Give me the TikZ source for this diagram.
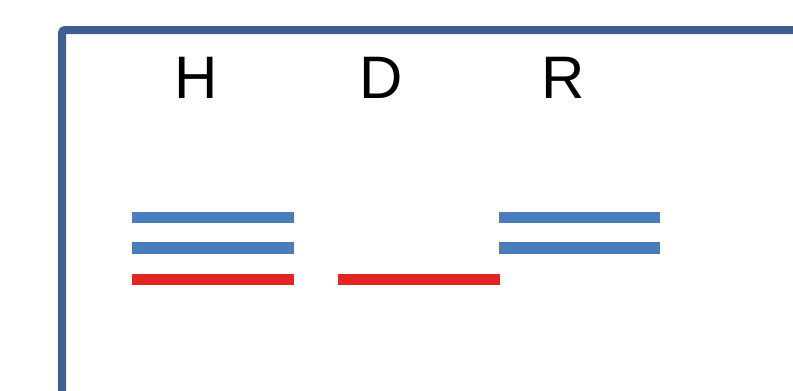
\documentclass[tikz,border=0pt]{standalone}
\usepackage{fontspec}
\setmainfont{Liberation Sans}
\usetikzlibrary{positioning}
\definecolor{framecol}{HTML}{3E6191}
\definecolor{bandblue}{HTML}{4A7EBB}
\definecolor{bandred}{HTML}{E32522}

\begin{document}
\begin{tikzpicture}[
    x=1pt,y=-1pt,
    lane/.style={anchor=base,inner sep=0,font=\fontsize{60}{72}\selectfont},
    frame/.style={draw=framecol,line width=8pt,rounded corners=3pt},
    blueband/.style={draw=bandblue,line width=11.5pt},
    redband/.style={draw=bandred,line width=11.5pt}
    ]
    \useasboundingbox (0,0) rectangle (793,391);

    % frame of the gel
    \draw [frame] (62,400) -- (62,30) -- (800,30);

    % lane labels
    \node [lane] (h) at (196.5,98) {H};
    \node [lane] (d) at (381.5,98) {D};
    \node [lane] (r) at (563.5,98) {R};

    % bands of lane H
    \draw [blueband] (131.5,217.5) -- (293.5,217.5);
    \draw [blueband] (131.5,248) -- (293.5,248);
    \draw [redband] (131.5,279.5) -- (293.5,279.5);

    % band of lane D
    \draw [redband] (337.5,279.5) -- (499.5,279.5);

    % bands of lane R
    \foreach \y in {217.5,248} {
      \draw [blueband] (498.5,\y) -- (660,\y);
    }
  \end{tikzpicture}
\end{document}
